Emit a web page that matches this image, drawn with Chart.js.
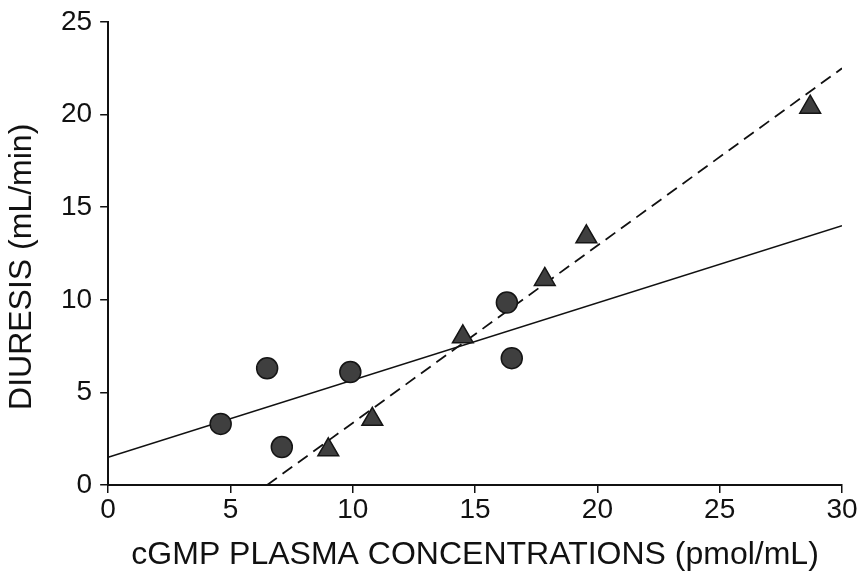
<!DOCTYPE html>
<html>
<head>
<meta charset="utf-8">
<script src="https://cdn.jsdelivr.net/npm/chart.js@4/dist/chart.umd.min.js"></script>
<style>
  html, body { margin: 0; padding: 0; background: #fff; }
  #wrap { width: 862px; height: 571px; }
</style>
</head>
<body>
<div id="wrap"><canvas id="diuresisChart"></canvas></div>
<script>
// circles
const circleX = [4.6, 6.5, 7.1, 9.9, 16.3, 16.5];
const circleY = [3.3, 6.3, 2.05, 6.1, 9.85, 6.85];
// triangles
const triangleX = [9.0, 10.8, 14.5, 17.85, 19.55, 28.7];
const triangleY = [1.9, 3.55, 8.0, 11.1, 13.4, 20.4];
// regression lines (end points)
const solidFitX = [0, 30];
const solidFitY = [1.5, 14.0];
const dashedFitX = [6.5, 30];
const dashedFitY = [0, 22.5];

const xTicks = [0, 5, 10, 15, 20, 25, 30];
const yTicks = [0, 5, 10, 15, 20, 25];

function toPoints(xs, ys) {
    return xs.map((x, i) => ({ x: x, y: ys[i] }));
}

const FONT = "'Liberation Sans', Arial, Helvetica, sans-serif";

new Chart(document.getElementById("diuresisChart").getContext("2d"), {
    type: "scatter",
    data: {
        datasets: [
            {
                label: "solid fit",
                data: toPoints(solidFitX, solidFitY),
                showLine: true,
                borderColor: "#111",
                borderWidth: 1.6,
                pointRadius: 0,
                order: 3
            },
            {
                label: "dashed fit",
                data: toPoints(dashedFitX, dashedFitY),
                showLine: true,
                borderColor: "#111",
                borderWidth: 1.8,
                borderDash: [12, 7],
                pointRadius: 0,
                order: 2
            },
            {
                label: "circles",
                data: toPoints(circleX, circleY),
                pointStyle: "circle",
                pointRadius: 10.5,
                backgroundColor: "#3f3f3f",
                borderColor: "#151515",
                borderWidth: 1.5,
                order: 1
            },
            {
                label: "triangles",
                data: toPoints(triangleX, triangleY),
                pointStyle: "triangle",
                pointRadius: 12,
                backgroundColor: "#3f3f3f",
                borderColor: "#151515",
                borderWidth: 1.5,
                order: 1
            }
        ]
    },
    options: {
        responsive: true,
        maintainAspectRatio: false,
        animation: false,
        layout: { padding: { left: 0, right: 20, top: 21, bottom: 0 } },
        plugins: {
            legend: { display: false },
            tooltip: { enabled: false }
        },
        scales: {
            x: {
                type: "linear",
                min: 0,
                max: 30,
                afterBuildTicks: axis => { axis.ticks = xTicks.map(v => ({ value: v })); },
                ticks: { color: "#111", padding: 3, font: { family: FONT, size: 28, lineHeight: 1 } },
                grid: { drawOnChartArea: false, drawTicks: true, tickLength: 8, color: "#111", lineWidth: 1.5 },
                border: { display: true, color: "#111", width: 2 },
                title: {
                    display: true,
                    text: "cGMP PLASMA CONCENTRATIONS (pmol/mL)",
                    color: "#111",
                    font: { family: FONT, size: 32, lineHeight: 1 },
                    padding: { top: 12, bottom: 0 }
                }
            },
            y: {
                type: "linear",
                min: 0,
                max: 25,
                afterBuildTicks: axis => { axis.ticks = yTicks.map(v => ({ value: v })); },
                ticks: { color: "#111", padding: 8, font: { family: FONT, size: 28, lineHeight: 1 } },
                grid: { drawOnChartArea: false, drawTicks: true, tickLength: 8, color: "#111", lineWidth: 1.5 },
                border: { display: true, color: "#111", width: 2 },
                title: {
                    display: true,
                    // trailing nbsp nudge the centred title down a little, as in the figure
                    text: "DIURESIS (mL/min)\u00A0\u00A0\u00A0",
                    color: "#111",
                    font: { family: FONT, size: 32, lineHeight: 1 },
                    padding: { top: 6, bottom: 15 }
                }
            }
        }
    }
});
</script>
</body>
</html>
